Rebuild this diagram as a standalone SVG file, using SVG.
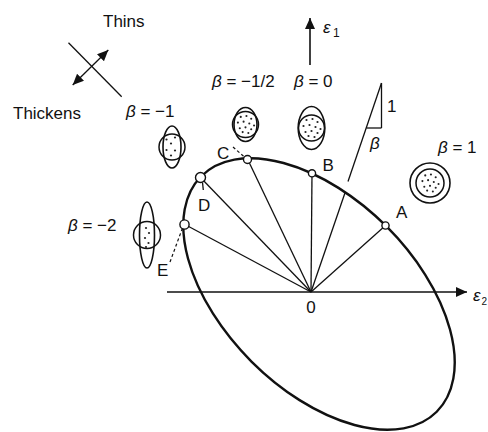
<svg xmlns="http://www.w3.org/2000/svg" xmlns:xlink="http://www.w3.org/1999/xlink" width="488" height="432" viewBox="0 0 488 432">
<style>
text{font-family:"Liberation Sans",Arial,Helvetica,sans-serif;font-size:17px;fill:#111}
.it{font-style:italic}
.sub{font-size:12px}
.ln{stroke:#111;stroke-width:1.3;fill:none}
.ax{stroke:#111;stroke-width:1.6;fill:none}
.ell{stroke:#111;stroke-width:2.4;fill:none}
.pt{stroke:#111;stroke-width:1.4;fill:#fff}
.dash{stroke:#111;stroke-width:1.2;stroke-dasharray:3 2.5;fill:none}
.gc{stroke:#111;stroke-width:1.5;fill:#fff}
.ge{stroke:#111;stroke-width:1.6;fill:none}
.dt{fill:#222}
</style>
<defs>
<marker id="ah" viewBox="0 0 11 10" refX="11" refY="5" markerWidth="11" markerHeight="10" markerUnits="userSpaceOnUse" orient="auto-start-reverse">
<path d="M0,0 L11,5 L0,10 z" fill="#111"/>
</marker>
<g id="dots" class="dt">
<circle cx="-5" cy="-8" r="1.1"/><circle cx="1" cy="-9" r="1.1"/><circle cx="6" cy="-6" r="1.1"/>
<circle cx="-8" cy="-2" r="1.1"/><circle cx="-2" cy="-3" r="1.1"/><circle cx="4" cy="-1" r="1.1"/>
<circle cx="9" cy="1" r="1.1"/><circle cx="-6" cy="4" r="1.1"/><circle cx="0" cy="3" r="1.1"/>
<circle cx="6" cy="5" r="1.1"/><circle cx="-3" cy="8" r="1.1"/><circle cx="3" cy="9" r="1.1"/>
</g>
</defs>
<rect width="488" height="432" fill="#fff"/>

<g id="connectors">
<line class="ax" x1="167" y1="292" x2="467" y2="292" marker-end="url(#ah)"/>
<line class="ax" x1="310" y1="65" x2="310" y2="18" marker-end="url(#ah)"/>
<line class="ln" x1="311" y1="292" x2="184" y2="224"/>
<line class="ln" x1="311" y1="292" x2="200.5" y2="177.5"/>
<line class="ln" x1="311" y1="292" x2="247.5" y2="159"/>
<line class="ln" x1="311" y1="292" x2="312" y2="173.3"/>
<line class="ln" x1="311" y1="292" x2="345.2" y2="192.2"/>
<line class="ln" x1="311" y1="292" x2="385.5" y2="225.5"/>
<line class="ln" x1="348" y1="181.5" x2="381.5" y2="83"/>
<line class="ln" x1="381.5" y1="83" x2="381.5" y2="128"/>
<line class="ln" x1="381.5" y1="128" x2="366.5" y2="128"/>
<line class="dash" x1="233" y1="147" x2="245" y2="157.5"/>
<line class="dash" x1="170" y1="262" x2="182.5" y2="228"/>
<line class="ln" x1="202.5" y1="182.5" x2="203.3" y2="190"/>
<line class="ln" x1="68.5" y1="42.7" x2="121.7" y2="96.7"/>
<line class="ln" x1="72.7" y1="85" x2="108.3" y2="50" marker-start="url(#ah)" marker-end="url(#ah)"/>
</g>

<g id="locus">
<ellipse class="ell" cx="319" cy="294" rx="166.5" ry="95.5" transform="rotate(45 319 294)"/>
</g>

<g id="point-A"><circle class="pt" cx="385.5" cy="225.5" r="3.6"/><text x="396" y="218">A</text></g>
<g id="point-B"><circle class="pt" cx="312" cy="173.3" r="3.6"/><text x="322.5" y="170.5">B</text></g>
<g id="point-C"><circle class="pt" cx="247.5" cy="159.5" r="4"/><text x="217" y="159">C</text></g>
<g id="point-D"><circle class="pt" cx="200.5" cy="177.5" r="5"/><text x="198" y="211">D</text></g>
<g id="point-E"><circle class="pt" cx="184.5" cy="224.5" r="4.6"/><text x="157" y="276">E</text></g>
<g id="origin"><text x="311" y="313" text-anchor="middle">0</text></g>

<g id="axis-labels">
<text x="323" y="33" class="it">ε</text><text x="333" y="37" class="sub">1</text>
<text x="473" y="301" class="it">ε</text><text x="481.5" y="305" class="sub" style="font-size:10px">2</text>
</g>

<g id="thins-thickens">
<text x="103" y="27">Thins</text>
<text x="13" y="119">Thickens</text>
</g>

<g id="slope">
<text x="387" y="112">1</text>
<text x="370" y="149" class="it">β</text>
</g>

<g id="glyph-beta-m2">
<text x="68" y="231"><tspan class="it">β</tspan> = −2</text>
<circle class="gc" cx="147" cy="235" r="13.5"/>
<ellipse class="ge" cx="147" cy="235" rx="7.5" ry="33"/>
<g class="dt"><circle cx="146" cy="228" r="1.1"/><circle cx="149" cy="233" r="1.1"/><circle cx="145" cy="238" r="1.1"/><circle cx="148.5" cy="243" r="1.1"/><circle cx="146" cy="247" r="1.1"/></g>
</g>

<g id="glyph-beta-m1">
<text x="126" y="117"><tspan class="it">β</tspan> = −1</text>
<circle class="gc" cx="172" cy="147" r="13"/>
<ellipse class="ge" cx="172" cy="147" rx="9" ry="21"/>
<g class="dt"><circle cx="166.5" cy="139.5" r="1.1"/><circle cx="175" cy="137.5" r="1.1"/><circle cx="171" cy="143.5" r="1.1"/><circle cx="166.5" cy="150" r="1.1"/><circle cx="175" cy="150.5" r="1.1"/><circle cx="171" cy="155.5" r="1.1"/></g>
</g>

<g id="glyph-beta-mhalf">
<text x="212" y="87"><tspan class="it">β</tspan> = −1/2</text>
<circle class="gc" cx="245.5" cy="124.5" r="13"/>
<ellipse class="ge" cx="245.5" cy="124.5" rx="11.5" ry="17"/>
<use xlink:href="#dots" transform="translate(245.5 124.5) scale(0.95)"/>
</g>

<g id="glyph-beta-0">
<text x="294" y="87"><tspan class="it">β</tspan> = 0</text>
<circle class="gc" cx="311.5" cy="128" r="13"/>
<ellipse class="ge" cx="311.5" cy="128" rx="13.3" ry="21.5"/>
<use xlink:href="#dots" transform="translate(311.5 128)"/>
</g>

<g id="glyph-beta-1">
<text x="438" y="153"><tspan class="it">β</tspan> = 1</text>
<circle class="ge" cx="430" cy="183" r="20"/>
<circle class="gc" cx="430" cy="183" r="14"/>
<use xlink:href="#dots" transform="translate(430 183) scale(0.95)"/>
</g>
</svg>
